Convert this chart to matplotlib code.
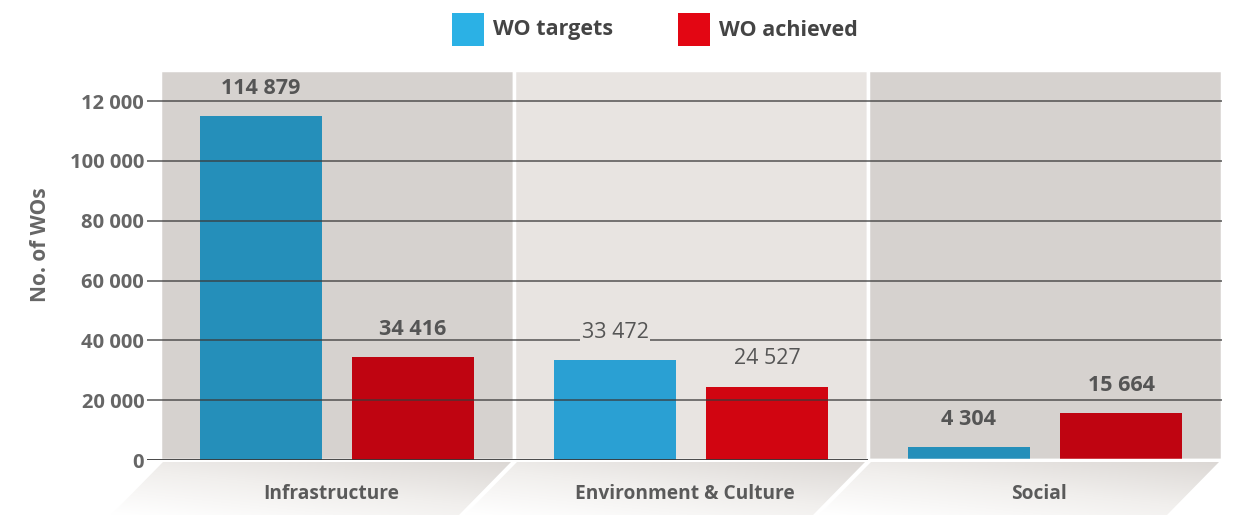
import numpy as np
import matplotlib
matplotlib.use('Agg')
import matplotlib.pyplot as plt
from matplotlib.patches import Polygon, Rectangle

plt.rcParams['font.family'] = ['Open Sans', 'DejaVu Sans']

# Datos
categorias = ['Infrastructure', 'Environment & Culture', 'Social']
wo_targets = [114879, 33472, 4304]
wo_achieved = [34416, 24527, 15664]
y_ticks = [0, 20000, 40000, 60000, 80000, 100000, 120000]
y_tick_labels = ['0', '20 000', '40 000', '60 000', '80 000', '100 000', '12 000']

# Estilos
panel_colors = ['#d6d2cf', '#e8e4e1', '#d6d2cf']
target_colors = ['#258fba', '#2aa0d3', '#258fba']
achieved_colors = ['#bf0411', '#d10511', '#bf0411']
label_weights = ['bold', 'normal', 'bold']
txt_gray = '#555555'

W, H = 1234, 515
fig = plt.figure(figsize=(W / 100, H / 100), dpi=100)

# fondo para el "suelo" en perspectiva
bg = fig.add_axes([0, 0, 1, 1], zorder=0)
bg.set_xlim(0, W)
bg.set_ylim(0, H)
bg.axis('off')

ax = fig.add_axes([147 / W, (H - 460) / H, 1075 / W, 390 / H], zorder=1)
ax.patch.set_alpha(0)
x0 = -0.5 - 13 / 354
ax.set_xlim(x0, 2.5)
ax.set_ylim(0, 130400)

x = np.arange(len(categorias))
ancho = 0.347
off = 0.2147

for i in x:
    ax.axvspan(i - 0.5, i + 0.5, facecolor=panel_colors[i], edgecolor='white',
               lw=2.5, zorder=0)

ax.bar(x - off, wo_targets, ancho, color=target_colors, zorder=2)
ax.bar(x + off, wo_achieved, ancho, color=achieved_colors, zorder=2)

for yt in y_ticks[1:]:
    ax.axhline(yt, color='#3a3a3a', lw=1.1, alpha=0.85, zorder=3)
ax.hlines(0, x0, 1.5, color='#3a3a3a', lw=1.3, zorder=3)
ax.hlines(0, 1.5, 2.5, color='white', lw=2.5, zorder=3)

def fmt(v):
    return f'{v:,}'.replace(',', ' ')

for i in x:
    for xi, v in [(i - off, wo_targets[i]), (i + off, wo_achieved[i])]:
        bbox = None
        if label_weights[i] == 'normal':
            bbox = dict(facecolor=panel_colors[i], edgecolor='none', pad=1)
        ax.annotate(fmt(v), (xi, v), xytext=(0, 20), textcoords='offset points',
                    ha='center', va='center', fontsize=15.5,
                    fontweight=label_weights[i], color=txt_gray, zorder=4,
                    bbox=bbox)

ax.set_yticks(y_ticks)
ax.set_yticklabels(y_tick_labels, fontsize=14.5, fontweight='bold', color='#666666')
ax.tick_params(axis='y', length=0, pad=2)
ax.set_xticks([])
for s in ax.spines.values():
    s.set_visible(False)

fig.text(40 / W, 1 - 245 / H, 'No. of WOs', rotation=90, ha='center', va='center',
         fontsize=15, fontweight='bold', color='#666666')

# suelo en perspectiva bajo cada panel
fig.canvas.draw()
gx = np.linspace(0, 1, 200)
gy = np.linspace(0, 1, 60)
GX, GY = np.meshgrid(gx, gy)
grad = 0.55 * GY + 0.45 * GX
cmap = matplotlib.colors.LinearSegmentedColormap.from_list('suelo', ['#ffffff', '#f1efed', '#dcd8d5'])
y_top = H - 462
skew = 52
for i in x:
    xl = ax.transData.transform((i - 0.5, 0))[0] + 3
    xr = ax.transData.transform((i + 0.5, 0))[0] - 3
    poly = Polygon([(xl, y_top), (xr, y_top), (xr - skew, 0), (xl - skew, 0)],
                   closed=True, facecolor='none', edgecolor='none')
    bg.add_patch(poly)
    im = bg.imshow(grad, extent=(xl - skew, xr, 0, y_top), origin='lower',
                   cmap=cmap, vmin=0, vmax=1, aspect='auto', zorder=1)
    im.set_clip_path(poly)
    bg.text((xl + xr) / 2 - 6, H - 494, categorias[i], ha='center', va='center',
            fontsize=13.8, fontweight='bold', color='#5a5a5a', zorder=2)
bg.set_xlim(0, W)
bg.set_ylim(0, H)

# leyenda
leyenda = [('WO targets', '#2bb1e5', 452), ('WO achieved', '#e30613', 678)]
for nombre, color, px in leyenda:
    fig.patches.append(Rectangle((px / W, 1 - 46 / H), 32 / W, 33 / H,
                                 transform=fig.transFigure, facecolor=color,
                                 edgecolor='none'))
    fig.text((px + 41) / W, 1 - 30 / H, nombre, ha='left', va='center',
             fontsize=15.5, fontweight='bold', color='#444444')

fig.savefig('out.png', dpi=100)
plt.close(fig)
